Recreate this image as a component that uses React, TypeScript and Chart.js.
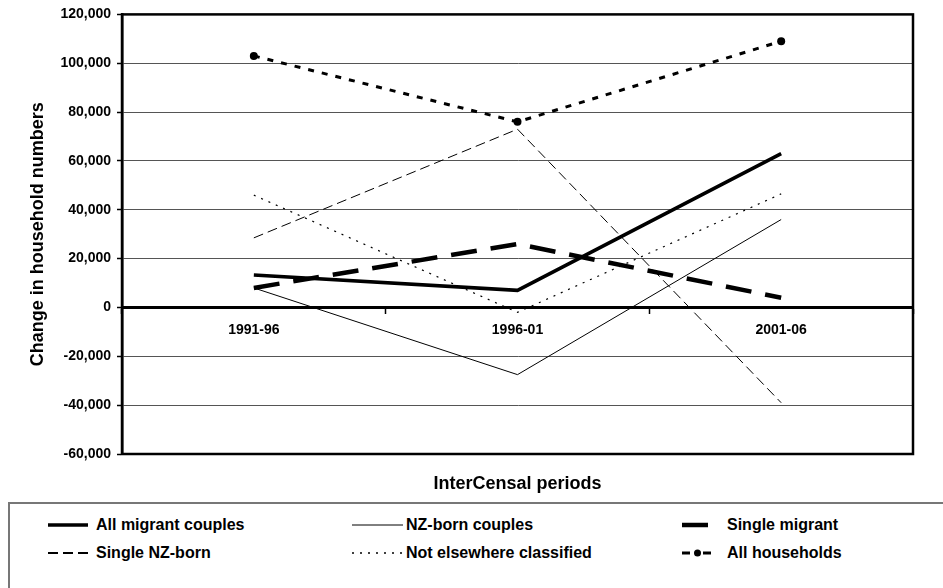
import React, { useEffect, useRef } from "react";
import { Chart, registerables } from "chart.js";

Chart.register(...registerables);

// ---- data ----
const periods = ["1991-96", "1996-01", "2001-06"];
const seriesLabels = [
  "All migrant couples",
  "NZ-born couples",
  "Single migrant",
  "Single NZ-born",
  "Not elsewhere classified",
  "All households",
];
const allMigrantCouples = [13300, 7000, 63000];
const nzBornCouples = [8000, -27500, 36000];
const singleMigrant = [8000, 26000, 4000];
const singleNZBorn = [28500, 73000, -39000];
const notElsewhereClassified = [46000, -2000, 46500];
const allHouseholds = [103000, 76000, 109000];
const yMin = -60000;
const yMax = 120000;
const yStep = 20000;
const yAxisTitle = "Change in household numbers";
const xAxisTitle = "InterCensal periods";

const FONT = '"Liberation Sans", Arial, Helvetica, sans-serif';

type Style = { width: number; dash: number[]; point: number; legendWidth: number };
const styles: Style[] = [
  { width: 3.5, dash: [], point: 0, legendWidth: 3.5 },
  { width: 1, dash: [], point: 0, legendWidth: 1 },
  { width: 4.5, dash: [26, 14], point: 0, legendWidth: 4.5 },
  { width: 1, dash: [10, 5], point: 0, legendWidth: 2 },
  { width: 1.2, dash: [2, 6], point: 0, legendWidth: 1.6 },
  { width: 3, dash: [6, 8], point: 4, legendWidth: 3 },
];
const seriesValues = [
  allMigrantCouples,
  nzBornCouples,
  singleMigrant,
  singleNZBorn,
  notElsewhereClassified,
  allHouseholds,
];

// legend layout (page pixels)
const legendCols = [
  { sx: 48, ex: 88, tx: 96 },
  { sx: 352, ex: 403, tx: 406 },
  { sx: 682, ex: 711, tx: 727 },
];
const legendRows = [525, 553];

const framePlugin = {
  id: "frameAndTitle",
  afterDraw(chart: any) {
    const { ctx, chartArea: a } = chart;
    ctx.save();
    ctx.strokeStyle = "#000";
    ctx.lineWidth = 2.5;
    ctx.strokeRect(a.left, a.top, a.right - a.left, a.bottom - a.top);
    ctx.fillStyle = "#000";
    ctx.font = `bold 18px ${FONT}`;
    ctx.textAlign = "center";
    ctx.textBaseline = "middle";
    ctx.fillText(xAxisTitle, (a.left + a.right) / 2, a.bottom + 30);
    ctx.restore();
  },
};

function LegendSample({ idx, width }: { idx: number; width: number }) {
  const st = styles[idx];
  if (idx === 5) {
    return (
      <svg width={width} height={14} style={{ display: "block" }}>
        <line x1={0} y1={7} x2={8} y2={7} stroke="#000" strokeWidth={st.legendWidth} />
        <circle cx={width / 2 + 1} cy={7} r={3.5} fill="#000" />
        <line x1={width - 8} y1={7} x2={width} y2={7} stroke="#000" strokeWidth={st.legendWidth} />
      </svg>
    );
  }
  return (
    <svg width={width} height={14} style={{ display: "block" }}>
      <line
        x1={0}
        y1={7}
        x2={width}
        y2={7}
        stroke="#000"
        strokeWidth={st.legendWidth}
        strokeDasharray={st.dash.length ? st.dash.join(" ") : undefined}
      />
    </svg>
  );
}

export default function App() {
  const canvasRef = useRef<HTMLCanvasElement | null>(null);

  useEffect(() => {
    const canvas = canvasRef.current;
    if (!canvas) return;
    const chart = new Chart(canvas, {
      type: "line",
      data: {
        labels: periods,
        datasets: seriesValues.map((vals, i) => ({
          label: seriesLabels[i],
          data: vals,
          borderColor: "#000",
          backgroundColor: "#000",
          borderWidth: styles[i].width,
          borderDash: styles[i].dash,
          pointRadius: styles[i].point,
          pointHoverRadius: styles[i].point,
          pointBackgroundColor: "#000",
          pointBorderColor: "#000",
          pointBorderWidth: 0,
          tension: 0,
          fill: false,
        })),
      },
      options: {
        responsive: false,
        animation: false,
        events: [],
        layout: { padding: { left: 0, top: 14, right: 30, bottom: 46 } },
        plugins: {
          legend: { display: false },
          title: { display: false },
          tooltip: { enabled: false },
        },
        scales: {
          x: {
            type: "category",
            position: { y: 0 } as any,
            offset: true,
            grid: {
              offset: true,
              drawOnChartArea: false,
              drawTicks: true,
              tickLength: 5,
              tickColor: "#000",
              tickWidth: 1.5,
              color: "#000",
            },
            border: { display: true, color: "#000", width: 3 },
            ticks: {
              color: "#000",
              font: { family: FONT, size: 14, weight: "bold" },
              padding: 9,
              maxRotation: 0,
            },
          },
          y: {
            type: "linear",
            position: "left",
            min: yMin,
            max: yMax,
            afterFit: (scale: any) => {
              scale.width = 122;
            },
            ticks: {
              stepSize: yStep,
              color: "#000",
              font: { family: FONT, size: 14, weight: "bold" },
              padding: 6,
              callback: (v: any) => Number(v).toLocaleString("en-US"),
            },
            grid: {
              color: (c: any) => (c.tick && c.tick.value === 0 ? "#000" : "#555"),
              lineWidth: (c: any) => (c.tick && c.tick.value === 0 ? 3 : 1),
              drawTicks: true,
              tickLength: 5,
              tickColor: "#000",
              tickWidth: 1.5,
            },
            border: { display: true, color: "#000", width: 2.5 },
            title: {
              display: true,
              text: yAxisTitle,
              color: "#000",
              font: { family: FONT, size: 18, weight: "bold" },
              padding: { top: 27, bottom: 0 },
            },
          },
        },
      },
      plugins: [framePlugin],
    });
    return () => chart.destroy();
  }, []);

  const items = seriesLabels.map((label, i) => {
    const col = legendCols[i % 3];
    const row = legendRows[Math.floor(i / 3)];
    return (
      <React.Fragment key={label}>
        <div style={{ position: "absolute", left: col.sx, top: row - 7 }}>
          <LegendSample idx={i} width={col.ex - col.sx} />
        </div>
        <div
          style={{
            position: "absolute",
            left: col.tx,
            top: row - 8,
            fontFamily: FONT,
            fontWeight: "bold",
            fontSize: 16,
            lineHeight: "16px",
            color: "#000",
            whiteSpace: "nowrap",
          }}
        >
          {label}
        </div>
      </React.Fragment>
    );
  });

  return (
    <div
      style={{
        position: "fixed",
        left: 0,
        top: 0,
        width: 943,
        height: 588,
        overflow: "hidden",
        background: "#fff",
      }}
    >
      <div style={{ position: "absolute", left: 0, top: 0 }}>
        <canvas ref={canvasRef} width={943} height={500} style={{ display: "block" }} />
      </div>
      <div
        style={{
          position: "absolute",
          left: 8,
          top: 502,
          width: 960,
          height: 120,
          border: "2px solid #777",
          boxSizing: "border-box",
        }}
      />
      {items}
    </div>
  );
}
